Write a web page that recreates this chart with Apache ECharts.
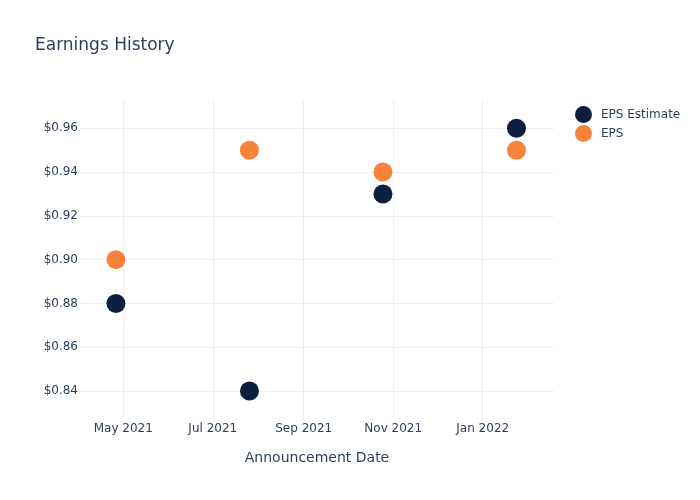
<!DOCTYPE html>
<html>
<head>
<meta charset="utf-8">
<script src="https://cdn.jsdelivr.net/npm/echarts@6/dist/echarts.min.js"></script>
<style>html,body{margin:0;padding:0;background:#fff;}#c{width:700px;height:500px;}</style>
</head>
<body>
<div id="c"></div>
<script>
const dates = ['2021-04-26', '2021-07-26', '2021-10-25', '2022-01-24'];
const epsEstimate = [0.88, 0.84, 0.93, 0.96];
const eps = [0.90, 0.95, 0.94, 0.95];
const yTicks = [0.84, 0.86, 0.88, 0.90, 0.92, 0.94, 0.96];
const xTicks = ['2021-05-01', '2021-07-01', '2021-09-01', '2021-11-01', '2022-01-01'];
const monthNames = ['Jan','Feb','Mar','Apr','May','Jun','Jul','Aug','Sep','Oct','Nov','Dec'];

function ts(s) { const p = s.split('-').map(Number); return Date.UTC(p[0], p[1]-1, p[2]); }
const fontColor = '#2a3f5f';
const gridColor = '#ebf0f8';
const ff = 'DejaVu Sans, Verdana, sans-serif';

const chart = echarts.init(document.getElementById('c'), null, {renderer: 'canvas'});
chart.setOption({
  backgroundColor: '#fff',
  animation: false,
  title: {
    text: 'Earnings History', left: 30, top: 32,
    textStyle: {color: fontColor, fontSize: 17, fontWeight: 'normal', fontFamily: ff}
  },
  legend: {
    orient: 'vertical', left: 570, top: 101, itemWidth: 17, itemHeight: 17, itemGap: 2,
    icon: 'circle',
    formatter: function (name) { return '{t|' + name + '}'; },
    textStyle: {color: fontColor, fontSize: 12, fontFamily: ff,
      rich: {t: {color: fontColor, fontSize: 12, fontFamily: ff, padding: [0, 0, 0, 4]}}},
    data: ['EPS Estimate', 'EPS']
  },
  grid: {left: 80, right: 146, top: 100, bottom: 80, containLabel: false},
  xAxis: {
    type: 'value', scale: true,
    min: ts('2021-04-01') + 12*3600*1000,
    max: ts('2022-02-18') + 14*3600*1000,
    name: 'Announcement Date', nameLocation: 'middle', nameGap: 31,
    nameTextStyle: {color: fontColor, fontSize: 14, fontFamily: ff},
    axisLine: {show: false}, axisTick: {show: false, customValues: xTicks.map(ts)},
    axisLabel: {
      customValues: xTicks.map(ts), margin: 3, color: fontColor, fontSize: 12, fontFamily: ff,
      formatter: function (v) { const d = new Date(v); return monthNames[d.getUTCMonth()] + ' ' + d.getUTCFullYear(); }
    },
    splitLine: {show: true, lineStyle: {color: gridColor, width: 1}}
  },
  yAxis: {
    type: 'value', min: 0.82675, max: 0.97293,
    axisLine: {show: false}, axisTick: {show: false, customValues: yTicks},
    axisLabel: {
      customValues: yTicks, margin: 2, color: fontColor, fontSize: 12, fontFamily: ff,
      formatter: function (v) { return '$' + v.toFixed(2); }
    },
    splitLine: {show: true, lineStyle: {color: gridColor, width: 1}}
  },
  series: [
    {
      name: 'EPS Estimate', type: 'scatter', symbolSize: 19,
      itemStyle: {color: '#0c1f40', opacity: 1},
      data: dates.map((d, i) => [ts(d), epsEstimate[i]])
    },
    {
      name: 'EPS', type: 'scatter', symbolSize: 19,
      itemStyle: {color: '#f7823a', opacity: 1},
      data: dates.map((d, i) => [ts(d), eps[i]])
    }
  ]
});
</script>
</body>
</html>
